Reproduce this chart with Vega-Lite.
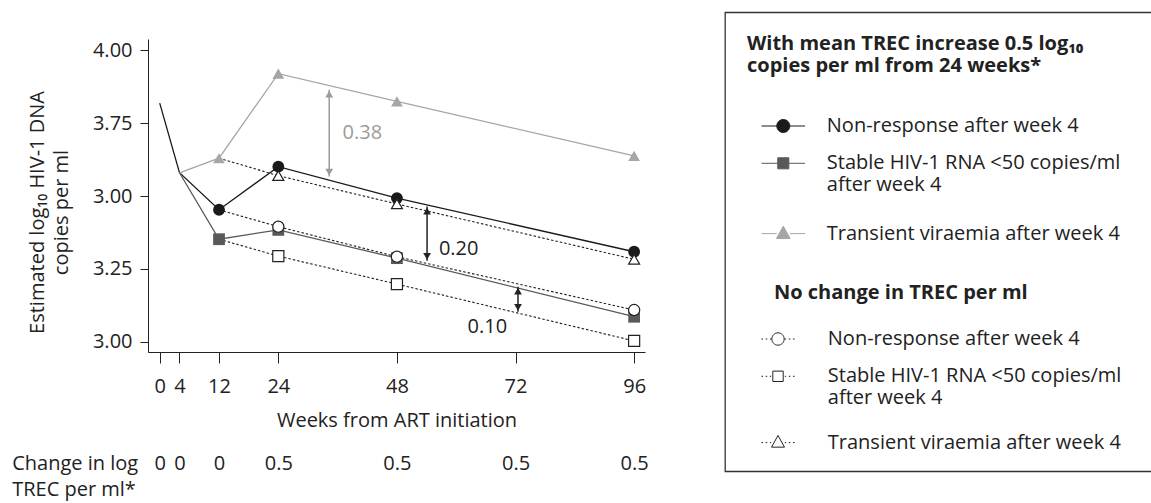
{
  "$schema": "https://vega.github.io/schema/vega-lite/v6.json",
  "width": 497,
  "height": 313,
  "autosize": {"type": "none"},
  "padding": {"left": 148, "top": 39, "right": 506, "bottom": 151},
  "background": "white",
  "config": {
    "view": {"stroke": null},
    "font": "Open Sans",
    "axis": {"labelFont": "Open Sans", "titleFont": "Open Sans", "labelFontSize": 20, "titleFontSize": 20, "titleFontWeight": "normal", "labelColor": "#222", "titleColor": "#222", "domainColor": "#222", "tickColor": "#222", "grid": false},
    "legend": {"labelFont": "Open Sans", "titleFont": "Open Sans", "labelFontSize": 20, "titleFontSize": 20, "titleFontWeight": "bold", "labelColor": "#222", "titleColor": "#222", "strokeWidth": 1.3, "symbolOpacity": 1, "labelLimit": 500, "titleLimit": 500}
  },
  "datasets": {
    "trajectories": [
      {"series": "Non-response after week 4", "scenario": "TREC increase", "week": 0, "value": 3.819},
      {"series": "Non-response after week 4", "scenario": "TREC increase", "week": 4, "value": 3.58},
      {"series": "Non-response after week 4", "scenario": "TREC increase", "week": 12, "value": 3.453},
      {"series": "Non-response after week 4", "scenario": "TREC increase", "week": 24, "value": 3.601},
      {"series": "Non-response after week 4", "scenario": "TREC increase", "week": 48, "value": 3.493},
      {"series": "Non-response after week 4", "scenario": "TREC increase", "week": 96, "value": 3.309},
      {"series": "Stable HIV-1 RNA <50 copies/ml after week 4", "scenario": "TREC increase", "week": 4, "value": 3.58},
      {"series": "Stable HIV-1 RNA <50 copies/ml after week 4", "scenario": "TREC increase", "week": 12, "value": 3.352},
      {"series": "Stable HIV-1 RNA <50 copies/ml after week 4", "scenario": "TREC increase", "week": 24, "value": 3.384},
      {"series": "Stable HIV-1 RNA <50 copies/ml after week 4", "scenario": "TREC increase", "week": 48, "value": 3.287},
      {"series": "Stable HIV-1 RNA <50 copies/ml after week 4", "scenario": "TREC increase", "week": 96, "value": 3.086},
      {"series": "Transient viraemia after week 4", "scenario": "TREC increase", "week": 4, "value": 3.58},
      {"series": "Transient viraemia after week 4", "scenario": "TREC increase", "week": 12, "value": 3.63},
      {"series": "Transient viraemia after week 4", "scenario": "TREC increase", "week": 24, "value": 3.92},
      {"series": "Transient viraemia after week 4", "scenario": "TREC increase", "week": 48, "value": 3.825},
      {"series": "Transient viraemia after week 4", "scenario": "TREC increase", "week": 96, "value": 3.638},
      {"series": "Non-response after week 4", "scenario": "No change", "week": 12, "value": 3.453},
      {"series": "Non-response after week 4", "scenario": "No change", "week": 24, "value": 3.395},
      {"series": "Non-response after week 4", "scenario": "No change", "week": 48, "value": 3.292},
      {"series": "Non-response after week 4", "scenario": "No change", "week": 96, "value": 3.109},
      {"series": "Stable HIV-1 RNA <50 copies/ml after week 4", "scenario": "No change", "week": 12, "value": 3.352},
      {"series": "Stable HIV-1 RNA <50 copies/ml after week 4", "scenario": "No change", "week": 24, "value": 3.294},
      {"series": "Stable HIV-1 RNA <50 copies/ml after week 4", "scenario": "No change", "week": 48, "value": 3.198},
      {"series": "Stable HIV-1 RNA <50 copies/ml after week 4", "scenario": "No change", "week": 96, "value": 3.003},
      {"series": "Transient viraemia after week 4", "scenario": "No change", "week": 12, "value": 3.63},
      {"series": "Transient viraemia after week 4", "scenario": "No change", "week": 24, "value": 3.57},
      {"series": "Transient viraemia after week 4", "scenario": "No change", "week": 48, "value": 3.473},
      {"series": "Transient viraemia after week 4", "scenario": "No change", "week": 96, "value": 3.283}
    ],
    "differences": [
      {"label": "0.38", "week": 34.3, "top": 3.865, "bottom": 3.567, "label_week": 37.0, "label_value": 3.717},
      {"label": "0.20", "week": 54.1, "top": 3.464, "bottom": 3.278, "label_week": 56.5, "label_value": 3.318},
      {"label": "0.10", "week": 72.5, "top": 3.189, "bottom": 3.103, "label_week": 62.3, "label_value": 3.052}
    ]
  },
  "layer": [
    {
      "data": {"name": "trajectories"},
      "transform": [{"filter": "datum.scenario == 'TREC increase'"}],
      "mark": {"type": "line", "strokeWidth": 1.3},
      "encoding": {
        "x": {"field": "week", "type": "quantitative", "scale": {"domain": [-2.37, 98.2], "nice": false, "zero": false},
          "axis": {"orient": "bottom", "values": [0, 4, 12, 24, 48, 72, 96], "format": "d", "tickSize": 11, "labelPadding": 23.7, "labelBaseline": "middle", "labelFlush": false, "title": "Weeks from ART initiation", "titleY": 68, "titleBaseline": "middle"}},
        "y": {"field": "value", "type": "quantitative", "scale": {"domain": [2.965, 4.039], "nice": false, "zero": false},
          "axis": {"values": [3, 3.25, 3.5, 3.75, 4], "labelExpr": "datum.value == 3.5 ? '3.00' : format(datum.value, '.2f')", "tickSize": 8, "labelPadding": 8, "labelFlush": false, "title": ["Estimated log₁₀ HIV-1 DNA", "copies per ml"], "titleX": -110.5, "titleY": 173, "titleBaseline": "middle", "titleLineHeight": 23.5}},
        "color": {"field": "series", "type": "nominal", "scale": {"domain": ["Non-response after week 4", "Stable HIV-1 RNA <50 copies/ml after week 4", "Transient viraemia after week 4"], "range": ["#1a1a1a", "#595959", "#a6a6a6"]}, "legend": null},
        "order": {"field": "week"}
      }
    },
    {
      "data": {"name": "trajectories"},
      "transform": [{"filter": "datum.scenario == 'No change'"}],
      "mark": {"type": "line", "strokeWidth": 1.1, "strokeDash": [2.5, 2], "color": "#222"},
      "encoding": {
        "x": {"field": "week", "type": "quantitative",
          "axis": {"orient": "bottom", "values": [0, 4, 12, 24, 48, 72, 96], "labelExpr": "datum.value >= 24 ? '0.5' : '0'", "domain": false, "ticks": false, "labelPadding": 111.3, "labelBaseline": "middle", "labelFlush": false, "title": ["Change in log", "TREC per ml*"], "titleX": -136.3, "titleY": 111.3, "titleAlign": "left", "titleBaseline": "middle", "titleLineHeight": 26.7}},
        "y": {"field": "value", "type": "quantitative"},
        "detail": {"field": "series"},
        "order": {"field": "week"}
      }
    },
    {
      "data": {"name": "trajectories"},
      "transform": [{"filter": "datum.scenario == 'TREC increase' && datum.week >= 12"}],
      "mark": {"type": "point", "filled": true, "opacity": 1, "strokeWidth": 0},
      "encoding": {
        "x": {"field": "week", "type": "quantitative", "axis": null},
        "y": {"field": "value", "type": "quantitative"},
        "shape": {"field": "series", "type": "nominal", "scale": {"domain": ["Non-response after week 4", "Stable HIV-1 RNA <50 copies/ml after week 4", "Transient viraemia after week 4"], "range": ["circle", "square", "triangle-up"]}, "legend": null},
        "size": {"field": "series", "type": "nominal", "scale": {"domain": ["Non-response after week 4", "Stable HIV-1 RNA <50 copies/ml after week 4", "Transient viraemia after week 4"], "range": [140, 137, 225]}, "legend": null},
        "color": {"field": "series", "type": "nominal", "scale": {"domain": ["Non-response after week 4", "Stable HIV-1 RNA <50 copies/ml after week 4", "Transient viraemia after week 4"], "range": ["#1a1a1a", "#595959", "#a6a6a6"]}, "legend": null}
      }
    },
    {
      "data": {"name": "trajectories"},
      "transform": [{"filter": "datum.scenario == 'No change' && datum.week >= 24"}],
      "mark": {"type": "point", "filled": false, "fill": "white", "stroke": "#222", "strokeWidth": 1.2, "opacity": 1},
      "encoding": {
        "x": {"field": "week", "type": "quantitative", "axis": null},
        "y": {"field": "value", "type": "quantitative"},
        "shape": {"field": "series", "type": "nominal", "scale": {"domain": ["Non-response after week 4", "Stable HIV-1 RNA <50 copies/ml after week 4", "Transient viraemia after week 4"], "range": ["circle", "square", "triangle-up"]}, "legend": null},
        "size": {"field": "series", "type": "nominal", "scale": {"domain": ["Non-response after week 4", "Stable HIV-1 RNA <50 copies/ml after week 4", "Transient viraemia after week 4"], "range": [125, 121, 196]}, "legend": null}
      }
    },
    {
      "data": {"name": "differences"},
      "mark": {"type": "rule", "strokeWidth": 1.5},
      "encoding": {
        "x": {"field": "week", "type": "quantitative", "axis": null},
        "y": {"field": "top", "type": "quantitative"},
        "y2": {"field": "bottom"},
        "color": {"field": "label", "type": "nominal", "scale": {"domain": ["0.38", "0.20", "0.10"], "range": ["#9b9b9b", "#222222", "#222222"]}, "legend": null}
      }
    },
    {
      "data": {"name": "differences"},
      "mark": {"type": "point", "shape": "triangle-up", "filled": true, "size": 60, "yOffset": 4.5, "opacity": 1},
      "encoding": {
        "x": {"field": "week", "type": "quantitative", "axis": null},
        "y": {"field": "top", "type": "quantitative"},
        "color": {"field": "label", "type": "nominal", "scale": {"domain": ["0.38", "0.20", "0.10"], "range": ["#9b9b9b", "#222222", "#222222"]}, "legend": null}
      }
    },
    {
      "data": {"name": "differences"},
      "mark": {"type": "point", "shape": "triangle-down", "filled": true, "size": 60, "yOffset": -4.5, "opacity": 1},
      "encoding": {
        "x": {"field": "week", "type": "quantitative", "axis": null},
        "y": {"field": "bottom", "type": "quantitative"},
        "color": {"field": "label", "type": "nominal", "scale": {"domain": ["0.38", "0.20", "0.10"], "range": ["#9b9b9b", "#222222", "#222222"]}, "legend": null}
      }
    },
    {
      "data": {"name": "differences"},
      "mark": {"type": "text", "align": "left", "baseline": "middle", "fontSize": 20, "font": "Open Sans"},
      "encoding": {
        "x": {"field": "label_week", "type": "quantitative", "axis": null},
        "y": {"field": "label_value", "type": "quantitative"},
        "text": {"field": "label"},
        "color": {"field": "label", "type": "nominal", "scale": {"domain": ["0.38", "0.20", "0.10"], "range": ["#9b9b9b", "#222222", "#222222"]}, "legend": null}
      }
    },
    {
      "data": {"name": "trajectories"},
      "transform": [{"filter": "datum.scenario == 'TREC increase'"}],
      "mark": {"type": "point", "opacity": 0},
      "encoding": {
        "shape": {"field": "series", "type": "nominal",
          "scale": {"domain": ["Non-response after week 4", "Stable HIV-1 RNA <50 copies/ml after week 4", "Transient viraemia after week 4", "spacer"],
            "range": ["M-3.35,0H-1M1,0H3.35M1,0A1,1 0 1 1 -1,0A1,1 0 1 1 1,0Z", "M-3.35,0H-0.85M0.85,0H3.35M-0.85,-0.85H0.85V0.85H-0.85ZM0,6.2", "M-3.35,0H-1M1,0H3.35M0,-1.15L1.05,0.75H-1.05Z", "M0,0V27.05H60"]},
          "legend": {"title": ["With mean TREC increase 0.5 log₁₀", "copies per ml from 24 weeks*"], "orient": "none", "legendX": 577, "legendY": -26.7, "padding": 22, "strokeColor": "#333", "fillColor": "white", "titleLineHeight": 21.7, "titlePadding": 40, "labelLineHeight": 21.7, "rowPadding": 17.3, "symbolSize": 169, "symbolStrokeWidth": 1, "symbolOffset": 26.3, "labelOffset": 33.5, "labelExpr": "datum.label == 'spacer' ? '' : (datum.label == 'Stable HIV-1 RNA <50 copies/ml after week 4' ? ['Stable HIV-1 RNA <50 copies/ml', 'after week 4'] : datum.label)"}},
        "fill": {"field": "series", "type": "nominal",
          "scale": {"domain": ["Non-response after week 4", "Stable HIV-1 RNA <50 copies/ml after week 4", "Transient viraemia after week 4", "spacer"], "range": ["#1a1a1a", "#595959", "#a6a6a6", "transparent"]},
          "legend": {"title": ["With mean TREC increase 0.5 log₁₀", "copies per ml from 24 weeks*"], "orient": "none", "legendX": 577, "legendY": -26.7}},
        "stroke": {"field": "series", "type": "nominal",
          "scale": {"domain": ["Non-response after week 4", "Stable HIV-1 RNA <50 copies/ml after week 4", "Transient viraemia after week 4", "spacer"], "range": ["#1a1a1a", "#595959", "#a6a6a6", "transparent"]},
          "legend": {"title": ["With mean TREC increase 0.5 log₁₀", "copies per ml from 24 weeks*"], "orient": "none", "legendX": 577, "legendY": -26.7}}
      }
    },
    {
      "data": {"name": "trajectories"},
      "transform": [{"filter": "datum.scenario == 'No change'"}],
      "mark": {"type": "point", "opacity": 0},
      "encoding": {
        "shape": {"field": "series", "type": "nominal",
          "scale": {"domain": ["Non-response after week 4", "Stable HIV-1 RNA <50 copies/ml after week 4", "Transient viraemia after week 4"],
            "range": ["M-2.55,0h0.25M-1.9,0h0.25M-1.25,0h0.2M1.05,0h0.2M1.65,0h0.25M2.3,0h0.25M0.95,0A0.95,0.95 0 1 1 -0.95,0A0.95,0.95 0 1 1 0.95,0Z", "M-2.55,0h0.25M-1.9,0h0.25M-1.25,0h0.2M1.05,0h0.2M1.65,0h0.25M2.3,0h0.25M-0.8,-0.8H0.8V0.8H-0.8ZM0,5.65", "M-2.55,0h0.25M-1.9,0h0.25M-1.25,0h0.2M1.05,0h0.2M1.65,0h0.25M2.3,0h0.25M0,-1.1L1,0.7H-1Z"]},
          "legend": {"title": "No change in TREC per ml", "orient": "none", "legendX": 626, "legendY": 244, "padding": 0, "titlePadding": 26, "labelLineHeight": 21.7, "rowPadding": 17.3, "symbolSize": 169, "symbolStrokeWidth": 1, "symbolOffset": -6, "labelOffset": 39.8, "labelExpr": "datum.label == 'Stable HIV-1 RNA <50 copies/ml after week 4' ? ['Stable HIV-1 RNA <50 copies/ml', 'after week 4'] : datum.label"}},
        "fill": {"field": "series", "type": "nominal",
          "scale": {"domain": ["Non-response after week 4", "Stable HIV-1 RNA <50 copies/ml after week 4", "Transient viraemia after week 4"], "range": ["white", "white", "white"]},
          "legend": {"title": "No change in TREC per ml", "orient": "none", "legendX": 626, "legendY": 244}},
        "stroke": {"field": "series", "type": "nominal",
          "scale": {"domain": ["Non-response after week 4", "Stable HIV-1 RNA <50 copies/ml after week 4", "Transient viraemia after week 4"], "range": ["#222222", "#222222", "#222222"]},
          "legend": {"title": "No change in TREC per ml", "orient": "none", "legendX": 626, "legendY": 244}}
      }
    }
  ],
  "resolve": {
    "scale": {"color": "independent", "shape": "independent", "size": "independent", "fill": "independent", "stroke": "independent"},
    "axis": {"x": "independent"},
    "legend": {"shape": "independent", "fill": "independent", "stroke": "independent"}
  }
}
